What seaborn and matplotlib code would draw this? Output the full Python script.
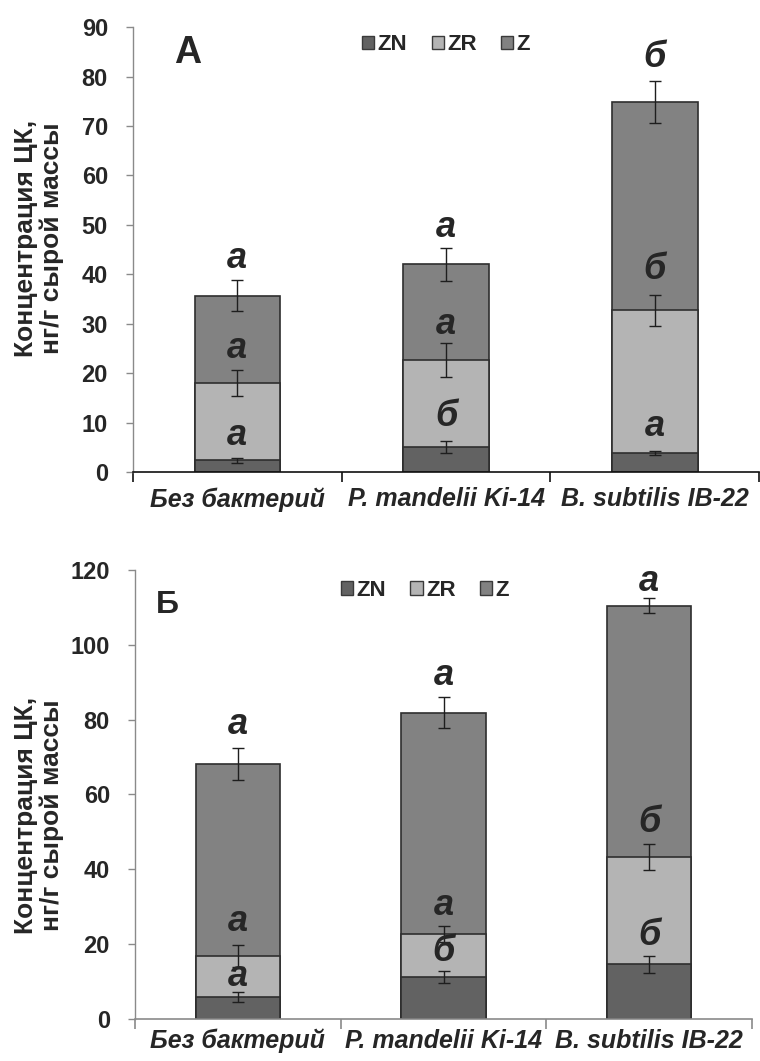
import matplotlib
matplotlib.use("Agg")
import matplotlib.pyplot as plt
from matplotlib.patches import Patch
import numpy as np
import pandas as pd
import seaborn as sns

sns.set_style("white")
plt.rcParams["font.family"] = ["Liberation Sans", "DejaVu Sans"]

# Treatments (shared by both panels)
treatments = ["Без бактерий", "P. mandelii Ki-14", "B. subtilis IB-22"]
components = ["ZN", "ZR", "Z"]

# Panel А: cytokinin content, ng/g fresh weight
a_zn = [2.4, 5.1, 3.9]
a_zn_err = [0.5, 1.25, 0.45]
a_zr = [15.6, 17.5, 28.8]
a_zr_err = [2.7, 3.45, 3.2]
a_z = [17.7, 19.4, 42.1]
a_z_err = [3.1, 3.25, 4.25]
a_letters_zr = ["а", "б", "а"]
a_letters_z = ["а", "а", "б"]
a_letters_top = ["а", "а", "б"]
a_letter_y_zr = [7.5, 11.2, 9.2]
a_letter_y_z = [25.1, 29.8, 41.0]
a_letter_y_top = [43.3, 49.4, 83.8]

# Panel Б
b_zn = [5.8, 11.35, 14.6]
b_zn_err = [1.3, 1.6, 2.2]
b_zr = [11.0, 11.35, 28.7]
b_zr_err = [2.9, 2.2, 3.4]
b_z = [51.3, 59.2, 67.1]
b_z_err = [4.3, 4.2, 2.0]
b_letters_zr = ["а", "б", "б"]
b_letters_z = ["а", "а", "б"]
b_letters_top = ["а", "а", "а"]
b_letter_y_zr = [11.3, 18.0, 22.4]
b_letter_y_z = [26.0, 30.4, 52.4]
b_letter_y_top = [78.8, 91.8, 116.8]

colors = {"ZN": "#626262", "ZR": "#b4b4b4", "Z": "#828282"}
edge = "#2e2e2e"
ylabel = "Концентрация ЦК,\nнг/г сырой массы"


def draw_panel(ax, zn, zr, z, errs, letters, letter_ys, ymax, ystep,
               panel, panel_size, panel_xy, legend_xy, xspine_color, label_xy,
               xpad):
    zn = np.array(zn)
    zr = np.array(zr)
    z = np.array(z)
    tops = {"ZN": zn, "ZR": zn + zr, "Z": zn + zr + z}
    # Stacked bars: draw cumulative heights from the tallest down
    for comp in ["Z", "ZR", "ZN"]:
        df = pd.DataFrame({"treatment": treatments, "value": tops[comp]})
        sns.barplot(data=df, x="treatment", y="value", order=treatments,
                    color=colors[comp], saturation=1, width=0.41,
                    edgecolor=edge, linewidth=1.2, errorbar=None, ax=ax)
    xs = np.arange(len(treatments))
    for comp, err in zip(components, errs):
        ax.errorbar(xs, tops[comp], yerr=err, fmt="none", ecolor="#1e1e1e",
                    elinewidth=1.0, capsize=4.5, capthick=1.0, zorder=5)
    for labs, ys in zip(letters, letter_ys):
        for x, lab, y in zip(xs, labs, ys):
            ax.text(x, y, lab, ha="center", va="center", fontsize=26,
                    fontweight="bold", fontstyle="italic", zorder=6)

    ax.set_xlim(-0.5, 2.5)
    ax.set_ylim(0, ymax)
    ax.set_yticks(np.arange(0, ymax + 1, ystep))
    ax.set_xticks(xs)
    ax.set_xticklabels(treatments, fontsize=18, fontweight="bold",
                       fontstyle="italic")
    ax.set_xticks([-0.5, 0.5, 1.5, 2.5], minor=True)
    ax.tick_params(axis="x", which="major", length=0, pad=xpad)
    ax.tick_params(axis="x", which="minor", length=7, width=1.2,
                   color=xspine_color, direction="out", bottom=True)
    ax.tick_params(axis="y", length=5, width=1, color="#8a8a8a",
                   direction="out", left=True, labelsize=17, pad=13)
    for lab in ax.get_yticklabels():
        lab.set_fontweight("bold")
    ax.set_xlabel("")
    ax.set_ylabel(ylabel, fontsize=19, fontweight="bold", linespacing=1.1)
    ax.yaxis.set_label_coords(*label_xy)

    for side in ["top", "right"]:
        ax.spines[side].set_visible(False)
    ax.spines["left"].set_color("#8a8a8a")
    ax.spines["left"].set_linewidth(1.0)
    ax.spines["bottom"].set_color(xspine_color)
    ax.spines["bottom"].set_linewidth(1.2)

    ax.text(*panel_xy, panel, transform=ax.transAxes, ha="center",
            va="center", fontsize=panel_size, fontweight="bold")

    handles = [Patch(facecolor=colors[c], edgecolor="#3a3a3a", linewidth=1.0,
                     label=c) for c in components]
    ax.legend(handles=handles, loc="center", bbox_to_anchor=legend_xy,
              ncol=3, frameon=False, handlelength=0.55, handleheight=0.55,
              handletextpad=0.15, columnspacing=1.1,
              prop={"weight": "bold", "size": 16})


fig = plt.figure(figsize=(7.6, 10.61), dpi=100)
ax1 = fig.add_axes([0.175, 0.555, 0.824, 0.4194])
ax2 = fig.add_axes([0.1776, 0.0396, 0.812, 0.4232])

draw_panel(ax1, a_zn, a_zr, a_z, [a_zn_err, a_zr_err, a_z_err],
           [a_letters_zr, a_letters_z, a_letters_top],
           [a_letter_y_zr, a_letter_y_z, a_letter_y_top],
           90, 10, "А", 27, (0.088, 0.943), (0.5, 0.96), "#111111",
           (-0.11, 0.526), 11)
draw_panel(ax2, b_zn, b_zr, b_z, [b_zn_err, b_zr_err, b_z_err],
           [b_letters_zr, b_letters_z, b_letters_top],
           [b_letter_y_zr, b_letter_y_z, b_letter_y_top],
           120, 20, "Б", 23, (0.052, 0.923), (0.47, 0.955), "#8a8a8a",
           (-0.115, 0.454), 7)

fig.savefig("out.png", dpi=100)
